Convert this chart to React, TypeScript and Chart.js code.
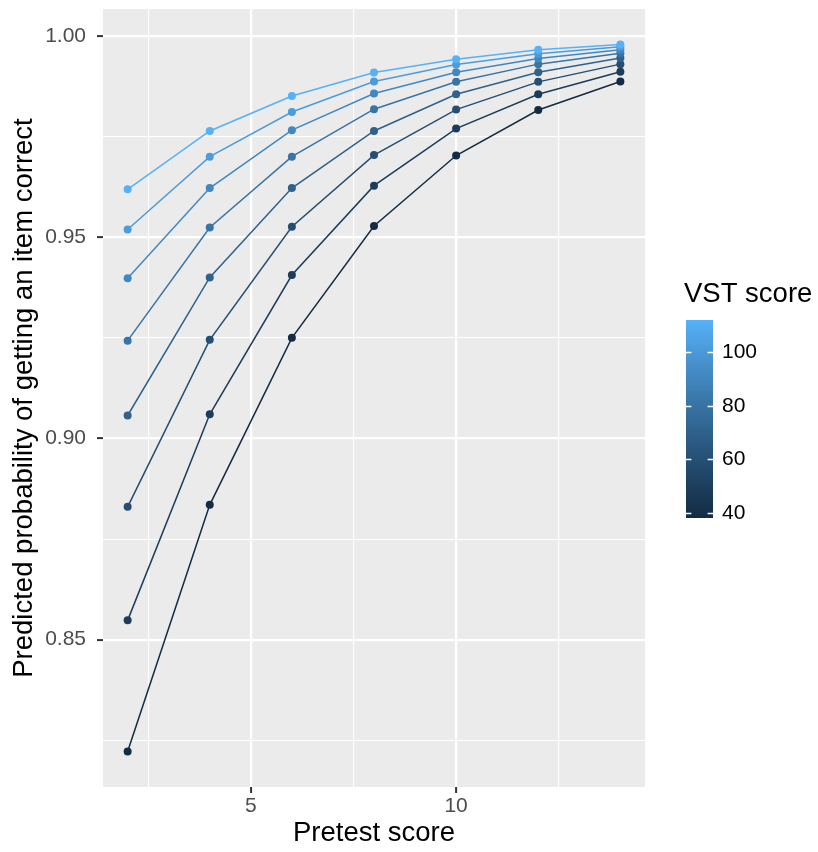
import React, { useEffect, useRef } from 'react';
import { Chart, registerables } from 'chart.js';

Chart.register(...registerables);

// ---- Data ----
const pretestScores = [2, 4, 6, 8, 10, 12, 14];
const vstScores = [40, 50, 60, 70, 80, 90, 100, 110];
const probVst40 = [0.8222, 0.8835, 0.925, 0.9528, 0.9703, 0.9816, 0.9887];
const probVst50 = [0.8548, 0.906, 0.9406, 0.9628, 0.977, 0.9855, 0.9911];
const probVst60 = [0.883, 0.9245, 0.9526, 0.9704, 0.9817, 0.9886, 0.993];
const probVst70 = [0.9057, 0.94, 0.9622, 0.9764, 0.9855, 0.991, 0.9945];
const probVst80 = [0.9243, 0.9524, 0.97, 0.9818, 0.9886, 0.993, 0.9957];
const probVst90 = [0.9398, 0.9622, 0.9766, 0.9857, 0.991, 0.9944, 0.9966];
const probVst100 = [0.9519, 0.97, 0.9811, 0.9887, 0.9929, 0.9956, 0.9973];
const probVst110 = [0.9619, 0.9764, 0.9851, 0.9909, 0.9942, 0.9966, 0.9979];
const seriesProbs = [probVst40, probVst50, probVst60, probVst70, probVst80, probVst90, probVst100, probVst110];

const xTickValues = [2.5, 5, 7.5, 10, 12.5];
const xTickLabels = ['', '5', '', '10', ''];
const yTickValues = [0.825, 0.85, 0.875, 0.9, 0.925, 0.95, 0.975, 1.0];
const yTickLabels = ['', '0.85', '', '0.90', '', '0.95', '', '1.00'];
const legendBreaks = [40, 60, 80, 100];
const legendLabels = ['40', '60', '80', '100'];

const X_MIN = 1.4;
const X_MAX = 14.6;
const Y_MIN = 0.8134;
const Y_MAX = 1.0067;

const X_TITLE = 'Pretest score';
const Y_TITLE = 'Predicted probability of getting an item correct';
const LEGEND_TITLE = 'VST score';

// ---- Styling ----
const FONT = '"Liberation Sans", Arial, Helvetica, sans-serif';
const LOW = '#132B43';
const HIGH = '#56B1F7';

function hexToRgb(h: string) {
  const n = parseInt(h.slice(1), 16);
  return [(n >> 16) & 255, (n >> 8) & 255, n & 255];
}
function toLab(hex: string) {
  const lin = hexToRgb(hex).map((c) => {
    const v = c / 255;
    return v <= 0.04045 ? v / 12.92 : Math.pow((v + 0.055) / 1.055, 2.4);
  });
  const [r, g, b] = lin;
  const X = (0.4124564 * r + 0.3575761 * g + 0.1804375 * b) / 0.95047;
  const Y = 0.2126729 * r + 0.7151522 * g + 0.072175 * b;
  const Z = (0.0193339 * r + 0.119192 * g + 0.9503041 * b) / 1.08883;
  const f = (t: number) => (t > 216 / 24389 ? Math.cbrt(t) : ((24389 / 27) * t + 16) / 116);
  const fx = f(X), fy = f(Y), fz = f(Z);
  return [116 * fy - 16, 500 * (fx - fy), 200 * (fy - fz)];
}
function labToHex(L: number, a: number, bb: number) {
  const fy = (L + 16) / 116;
  const fx = fy + a / 500;
  const fz = fy - bb / 200;
  const inv = (t: number) => (t * t * t > 216 / 24389 ? t * t * t : (116 * t - 16) / (24389 / 27));
  const X = inv(fx) * 0.95047, Y = inv(fy), Z = inv(fz) * 1.08883;
  const rl = 3.2404542 * X - 1.5371385 * Y - 0.4985314 * Z;
  const gl = -0.969266 * X + 1.8760108 * Y + 0.041556 * Z;
  const bl = 0.0556434 * X - 0.2040259 * Y + 1.0572252 * Z;
  const g = (c: number) => {
    const v = c <= 0.0031308 ? 12.92 * c : 1.055 * Math.pow(c, 1 / 2.4) - 0.055;
    return Math.max(0, Math.min(255, Math.round(v * 255)));
  };
  return '#' + [g(rl), g(gl), g(bl)].map((v) => v.toString(16).padStart(2, '0')).join('');
}
const labLow = toLab(LOW);
const labHigh = toLab(HIGH);
const vMin = Math.min(...vstScores);
const vMax = Math.max(...vstScores);
function colorFor(v: number) {
  const t = (v - vMin) / (vMax - vMin);
  return labToHex(
    labLow[0] + (labHigh[0] - labLow[0]) * t,
    labLow[1] + (labHigh[1] - labLow[1]) * t,
    labLow[2] + (labHigh[2] - labLow[2]) * t
  );
}

function idxOf(arr: number[], v: number) {
  return arr.findIndex((a) => Math.abs(a - v) < 1e-9);
}
const isMajorX = (v: number) => {
  const i = idxOf(xTickValues, v);
  return i >= 0 && xTickLabels[i] !== '';
};
const isMajorY = (v: number) => {
  const i = idxOf(yTickValues, v);
  return i >= 0 && yTickLabels[i] !== '';
};

const panelPlugin = {
  id: 'ggPanel',
  beforeDraw(chart: any) {
    const { ctx, chartArea } = chart;
    ctx.save();
    ctx.fillStyle = '#FFFFFF';
    ctx.fillRect(0, 0, chart.width, chart.height);
    ctx.fillStyle = '#EBEBEB';
    ctx.fillRect(chartArea.left, chartArea.top, chartArea.right - chartArea.left, chartArea.bottom - chartArea.top);
    ctx.restore();
  },
};

const LEG_X = 686;
const LEG_TITLE_BASE = 302;
const BAR_TOP = 320;
const BAR_H = 198;
const BAR_W = 27;

const legendPlugin = {
  id: 'vstColorbar',
  afterDraw(chart: any) {
    const ctx = chart.ctx;
    ctx.save();
    ctx.font = `27.5px ${FONT}`;
    ctx.fillStyle = '#000000';
    ctx.textAlign = 'left';
    ctx.textBaseline = 'alphabetic';
    ctx.fillText(LEGEND_TITLE, LEG_X - 2, LEG_TITLE_BASE);

    const bottom = BAR_TOP + BAR_H;
    const grad = ctx.createLinearGradient(0, bottom, 0, BAR_TOP);
    const nstops = 30;
    for (let i = 0; i <= nstops; i++) {
      grad.addColorStop(i / nstops, colorFor(vMin + ((vMax - vMin) * i) / nstops));
    }
    ctx.fillStyle = grad;
    ctx.fillRect(LEG_X, BAR_TOP, BAR_W, BAR_H);

    const nb = 20;
    ctx.font = `21px ${FONT}`;
    ctx.textBaseline = 'middle';
    legendBreaks.forEach((v, i) => {
      const pos = (0.5 + ((v - vMin) / (vMax - vMin)) * (nb - 1)) / nb;
      const y = Math.round(bottom - pos * BAR_H) + 0.5;
      ctx.strokeStyle = '#FFFFFF';
      ctx.lineWidth = 1.5;
      ctx.beginPath();
      ctx.moveTo(LEG_X, y);
      ctx.lineTo(LEG_X + BAR_W / 5, y);
      ctx.moveTo(LEG_X + BAR_W - BAR_W / 5, y);
      ctx.lineTo(LEG_X + BAR_W, y);
      ctx.stroke();
      ctx.fillStyle = '#000000';
      ctx.fillText(legendLabels[i], LEG_X + BAR_W + 9, y);
    });
    ctx.restore();
  },
};

export default function App() {
  const canvasRef = useRef<HTMLCanvasElement | null>(null);

  useEffect(() => {
    if (!canvasRef.current) return;
    const lineSets = vstScores.map((v, k) => ({
      type: 'line' as const,
      data: pretestScores.map((x, i) => ({ x, y: seriesProbs[k][i] })),
      borderColor: colorFor(v),
      backgroundColor: colorFor(v),
      borderWidth: 1.5,
      pointRadius: 0,
      tension: 0,
      fill: false,
      order: 100 + (vstScores.length - 1 - k),
    }));
    const pointSets = vstScores.map((v, k) => ({
      type: 'line' as const,
      data: pretestScores.map((x, i) => ({ x, y: seriesProbs[k][i] })),
      showLine: false,
      pointRadius: 4,
      pointBorderWidth: 0,
      pointBackgroundColor: colorFor(v),
      pointBorderColor: colorFor(v),
      order: vstScores.length - 1 - k,
    }));

    const chart = new Chart(canvasRef.current, {
      type: 'line',
      data: { datasets: [...pointSets, ...lineSets] as any },
      options: {
        animation: false,
        responsive: false,
        devicePixelRatio: 1,
        layout: { padding: { left: 0, top: 9, right: 173, bottom: 0 }, autoPadding: false },
        plugins: { legend: { display: false }, tooltip: { enabled: false } },
        scales: {
          x: {
            type: 'linear',
            min: X_MIN,
            max: X_MAX,
            border: { display: false },
            afterFit: (s: any) => {
              s.height = 65;
              s.paddingLeft = 0;
              s.paddingRight = 0;
            },
            afterBuildTicks: (s: any) => { s.ticks = xTickValues.map((value) => ({ value })); },
            grid: {
              color: '#FFFFFF',
              lineWidth: (c: any) => (c.tick && isMajorX(c.tick.value) ? 2.2 : 1.1),
              drawTicks: true,
              tickLength: 6,
              tickWidth: 2,
              tickColor: (c: any) => (c.tick && isMajorX(c.tick.value) ? '#333333' : 'rgba(0,0,0,0)'),
            },
            ticks: {
              autoSkip: false,
              maxRotation: 0,
              padding: 1,
              color: '#4D4D4D',
              font: { family: FONT, size: 21 },
              callback: (value: any) => {
                const i = idxOf(xTickValues, Number(value));
                return i >= 0 ? xTickLabels[i] : '';
              },
            },
            title: {
              display: true,
              text: X_TITLE,
              color: '#000000',
              font: { family: FONT, size: 27.5 },
              padding: { top: 0, bottom: 2 },
            },
          },
          y: {
            type: 'linear',
            min: Y_MIN,
            max: Y_MAX,
            border: { display: false },
            afterFit: (s: any) => {
              s.width = 103;
              s.paddingTop = 0;
              s.paddingBottom = 0;
            },
            afterBuildTicks: (s: any) => { s.ticks = yTickValues.map((value) => ({ value })); },
            grid: {
              color: '#FFFFFF',
              lineWidth: (c: any) => (c.tick && isMajorY(c.tick.value) ? 2.2 : 1.1),
              drawTicks: true,
              tickLength: 6,
              tickWidth: 2,
              tickColor: (c: any) => (c.tick && isMajorY(c.tick.value) ? '#333333' : 'rgba(0,0,0,0)'),
            },
            ticks: {
              autoSkip: false,
              padding: 11,
              color: '#4D4D4D',
              font: { family: FONT, size: 21 },
              callback: (value: any) => {
                const i = idxOf(yTickValues, Number(value));
                return i >= 0 ? yTickLabels[i] : '';
              },
            },
            title: {
              display: true,
              text: Y_TITLE,
              color: '#000000',
              font: { family: FONT, size: 27.5 },
              padding: { top: 8, bottom: 0 },
            },
          },
        },
      },
      plugins: [panelPlugin, legendPlugin],
    });
    return () => chart.destroy();
  }, []);

  return (
    <div style={{ position: 'absolute', left: 0, top: 0, width: 818, height: 852, background: '#FFFFFF' }}>
      <canvas ref={canvasRef} width={818} height={852} style={{ display: 'block', width: 818, height: 852 }} />
    </div>
  );
}
